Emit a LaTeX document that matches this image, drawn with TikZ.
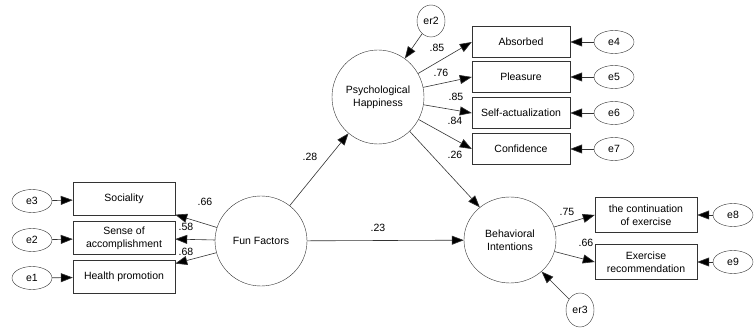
\documentclass[tikz,border=0pt]{standalone}
\usepackage{fontspec}
\setmainfont{Liberation Sans}
\usepackage{tikz}
\usetikzlibrary{shapes.geometric,arrows.meta}

\begin{document}
\begin{tikzpicture}[
    x=1pt, y=-1pt,
    every node/.style={font=\fontsize{10.5}{13}\selectfont},
    latent/.style={ellipse, draw=black!80, minimum width=92pt, minimum height=90pt,
                   align=center, inner sep=0pt},
    obs/.style={rectangle, draw=black!80, minimum width=102pt, minimum height=33pt,
                align=center, inner sep=1pt},
    err/.style={ellipse, draw=black!80, minimum width=40pt, minimum height=23pt, inner sep=0pt},
    dist/.style={ellipse, draw=black!80, minimum width=28pt, minimum height=34pt, inner sep=0pt},
    arr/.style={-{Triangle[length=12pt,width=9pt,fill=black]}, semithick, black!80},
    coef/.style={inner sep=1pt}
]
\useasboundingbox (0,0) rectangle (754,328);

% latent variables
\node[latent] (fun) at (261,241) {Fun Factors};
\node[latent, minimum height=94pt] (psy) at (378,97) {Psychological\\Happiness};
\node[latent, minimum height=86pt] (beh) at (510,240) {Behavioral\\Intentions};

% fun factors indicators
\node[obs] (soc) at (124,199) {Sociality};
\node[obs] (sen) at (124,238) {Sense of\\accomplishment};
\node[obs] (hea) at (124,277) {Health promotion};
\node[err] (e3) at (32,201) {e3};
\node[err] (e2) at (32,240) {e2};
\node[err] (e1) at (32,278) {e1};

% happiness indicators
\node[obs, minimum width=98pt, minimum height=31pt] (abs) at (521,42) {Absorbed};
\node[obs, minimum width=98pt, minimum height=31pt] (ple) at (521,77) {Pleasure};
\node[obs, minimum width=98pt, minimum height=31pt] (sel) at (521,113) {Self-actualization};
\node[obs, minimum width=98pt, minimum height=31pt] (con) at (521,149) {Confidence};
\node[err] (e4) at (614,42) {e4};
\node[err] (e5) at (614,77) {e5};
\node[err] (e6) at (614,113) {e6};
\node[err] (e7) at (614,149) {e7};

% intention indicators
\node[obs, minimum height=35pt] (cnt) at (646,215) {the continuation\\of exercise};
\node[obs, minimum height=35pt] (rec) at (646,262) {Exercise\\recommendation};
\node[err] (e8) at (733,215) {e8};
\node[err] (e9) at (733,262) {e9};

% disturbances
\node[dist, minimum height=32pt] (er2) at (431,21) {er2};
\node[dist] (er3) at (580,310) {er3};

% paths
\draw[arr] (fun) -- (soc);
\draw[arr] (fun) -- (sen);
\draw[arr] (fun) -- (hea);
\draw[arr] (fun) -- (psy);
\draw[arr] (fun) -- (beh);
\draw[arr] (psy) -- (beh);
\foreach \t in {abs,ple,sel,con}
    \draw[arr] (psy) -- (\t.west);
\draw[arr] (beh) -- (cnt.west);
\draw[arr] (beh) -- (rec.west);
\draw[arr] (er2) -- (psy);
\draw[arr] (er3) -- (beh);
\foreach \e/\t in {e3/soc,e2/sen,e1/hea}
    \draw[arr] (\e) -- (\t);
\foreach \e/\t in {e4/abs,e5/ple,e6/sel,e7/con,e8/cnt,e9/rec}
    \draw[arr] (\e) -- (\t);

% coefficients
\node[coef] (w1) at (205,202) {.66};
\node[coef] (w2) at (186,227) {.58};
\node[coef] (w3) at (186,252) {.68};
\node[coef] (w4) at (310,157) {.28};
\node[coef] (w5) at (378,228) {.23};
\node[coef] (w6) at (437,48) {.85};
\node[coef] (w7) at (441,73) {.76};
\node[coef] (w8) at (456,97) {.85};
\node[coef] (w9) at (455,121) {.84};
\node[coef] (w10) at (455,155) {.26};
\node[coef] (w11) at (567,212) {.75};
\node[coef] (w12) at (586,243) {.66};
\end{tikzpicture}
\end{document}
